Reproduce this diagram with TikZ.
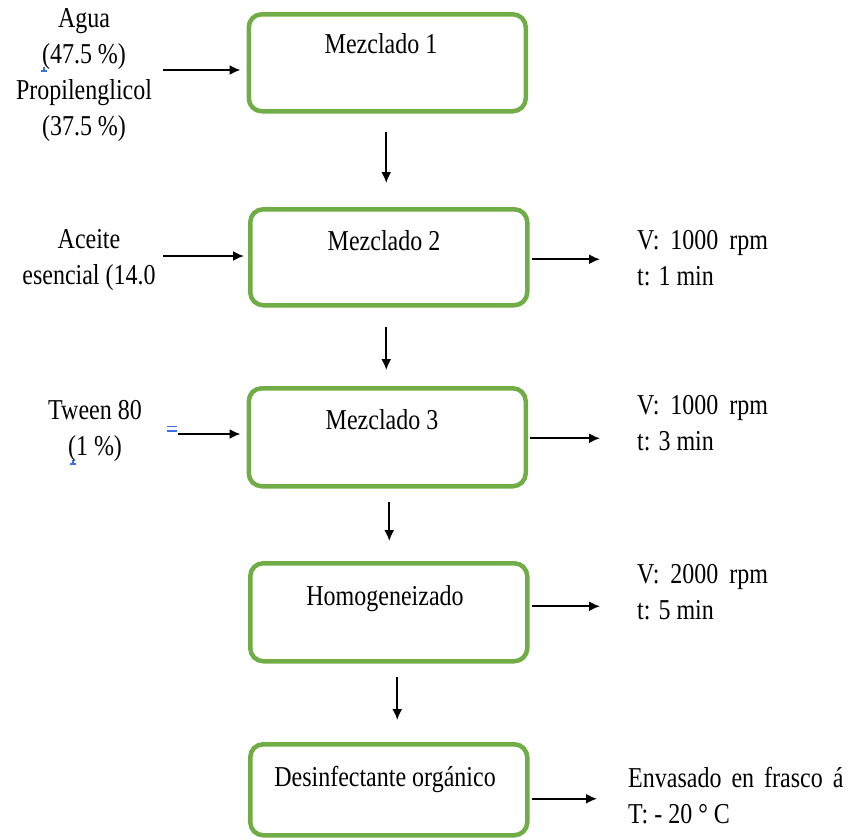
\documentclass[tikz,border=0pt]{standalone}
\usepackage{fontspec}
\usepackage{graphicx}
\setmainfont{Liberation Serif}
\usetikzlibrary{arrows.meta}
\definecolor{boxgreen}{RGB}{112,173,71}
\definecolor{markblue}{RGB}{60,110,230}
\newcommand{\Tc}[1]{\scalebox{1}[1.2]{\begin{tabular}{@{}c@{}}#1\end{tabular}}}
\newcommand{\Tl}[1]{\scalebox{1}[1.2]{\begin{tabular}{@{}l@{}}#1\end{tabular}}}
\newcommand{\gap}{\hspace{5pt}}
\newcommand{\wgap}{\hspace{4pt}}
\tikzset{
  box/.style={draw=boxgreen, line width=4.5pt, rounded corners=13pt, minimum width=277pt, anchor=north west, inner sep=0pt},
  txt/.style={inner sep=0pt, font=\fontsize{24}{30}\selectfont},
  arr/.style={line width=1.8pt, -{Latex[length=11pt,width=10pt]}},
  bluemark/.style={draw=markblue, line width=1.2pt}
}
\begin{document}
\begin{tikzpicture}[x=1pt,y=-1pt]
\useasboundingbox (0,0) rectangle (848,839);
% boxes
\node[box, minimum height=97pt] (b1) at (246.5,12) {};
\node[box, minimum height=96pt] (b2) at (248,207) {};
\node[box, minimum height=98pt] (b3) at (246.5,386) {};
\node[box, minimum height=98pt] (b4) at (248,561) {};
\node[box, minimum height=91pt] (b5) at (248,742) {};
% box texts
\node[txt] (t1) at (381,46) {\Tc{Mezclado 1}};
\node[txt] (t2) at (384,243) {\Tc{Mezclado 2}};
\node[txt] (t3) at (382,422) {\Tc{Mezclado 3}};
\node[txt] (t4) at (385,598) {\Tc{Homogeneizado}};
\node[txt] (t5) at (385,779) {\Tc{Desinfectante orgánico}};
% left inputs
\node[txt] (in1) at (84,74) {\Tc{Agua\\(47.5 \%)\\Propilenglicol\\(37.5 \%)}};
\node[txt] (in2) at (89,259) {\Tc{Aceite\\esencial (14.0}};
\node[txt] (in3) at (95,430) {\Tc{Tween 80\\(1 \%)}};
% right outputs
\node[txt, anchor=west] (o2) at (637,260) {\Tl{V: \gap1000 \gap rpm\\t: 1 min}};
\node[txt, anchor=west] (o3) at (637,425) {\Tl{V: \gap1000 \gap rpm\\t: 3 min}};
\node[txt, anchor=west] (o4) at (637,594) {\Tl{V: \gap2000 \gap rpm\\t: 5 min}};
\node[txt, anchor=west] (o5) at (628,798) {\Tl{Envasado \wgap en \wgap frasco \wgap á\\T: - 20 ° C}};
% small blue editing marks
\draw[bluemark] (41,71) -- (47,71) (44,67) -- (44,71);
\draw[bluemark] (70,464) -- (76,464) (73,460) -- (73,464);
\draw[bluemark] (167,426.5) -- (177,426.5) (167,431) -- (177,431);
% input arrows
\coordinate (s1) at (163,70);
\coordinate (s2) at (163,256);
\coordinate (s3) at (178,434);
\draw[arr] (s1) -- ([xshift=-6pt]s1 -| b1.west);
\draw[arr] (s2) -- ([xshift=-4pt]s2 -| b2.west);
\draw[arr] (s3) -- ([xshift=-6pt]s3 -| b3.west);
% vertical arrows
\draw[arr] ([xshift=-1pt,yshift=-18pt]b1.south) -- ([xshift=-1pt,yshift=24pt]b1.south |- b2.north);
\draw[arr] ([xshift=-2.5pt,yshift=-19pt]b2.south) -- ([xshift=-2.5pt,yshift=16pt]b2.south |- b3.north);
\draw[arr] ([xshift=2pt,yshift=-13pt]b3.south) -- ([xshift=2pt,yshift=20pt]b3.south |- b4.north);
\draw[arr] ([xshift=8.5pt,yshift=-13pt]b4.south) -- ([xshift=8.5pt,yshift=22pt]b4.south |- b5.north);
% output arrows
\draw[arr] ([xshift=2pt,yshift=-2pt]b2.east) coordinate (e2) -- ([xshift=-37pt]e2 -| o2.west);
\draw[arr] ([xshift=2pt,yshift=-1pt]b3.east) coordinate (e3) -- ([xshift=-37pt]e3 -| o3.west);
\draw[arr] ([xshift=2pt,yshift=6pt]b4.east) coordinate (e4) -- ([xshift=-37pt]e4 -| o4.west);
\draw[arr] ([xshift=2pt,yshift=-9pt]b5.east) coordinate (e5) -- ([xshift=-31pt]e5 -| o5.west);
\end{tikzpicture}
\end{document}
